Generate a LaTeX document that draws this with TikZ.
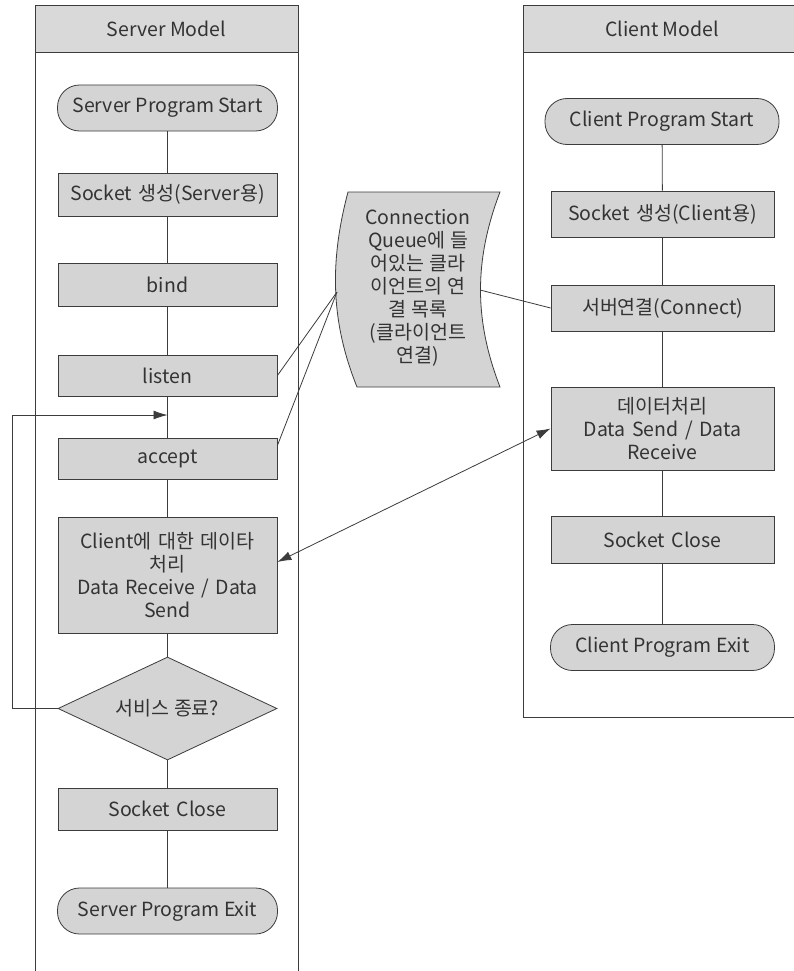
\documentclass[tikz,border=0pt]{standalone}
\usepackage{fontspec}
\setmainfont{Noto Sans CJK KR}
\usetikzlibrary{arrows.meta,shapes.geometric,calc}
\definecolor{boxfill}{HTML}{D4D4D4}
\definecolor{headfill}{HTML}{D9D9D9}
\definecolor{inkline}{HTML}{3C3C3C}
\definecolor{inktext}{HTML}{333333}
\begin{document}
\begin{tikzpicture}[x=1pt,y=-1pt,
  every node/.style={font=\fontsize{19.5}{23}\selectfont, text=inktext},
  line/.style={draw=inkline, line width=0.8pt},
  procbox/.style={line, fill=boxfill, rectangle, inner sep=0pt, align=center},
  srvbox/.style={procbox, minimum width=219pt, text width=215pt},
  clibox/.style={procbox, minimum width=223pt, text width=219pt},
  terminal/.style={line, fill=boxfill, rectangle, rounded corners=22pt, inner sep=0pt, minimum height=46pt},
  decision/.style={line, fill=boxfill, diamond, inner sep=0pt, minimum width=219pt, minimum height=103pt, aspect=2.1},
  flow/.style={line},
  arr/.style={line, -{Latex[length=14pt,width=9pt]}},
  darr/.style={line, {Latex[length=14pt,width=9pt]}-{Latex[length=14pt,width=9pt]}}
]
\useasboundingbox (0,0) rectangle (793,971);
\fill[white] (0,0) rectangle (793,971);

% ---- swimlanes ----
\draw[line, fill=headfill] (35,5) rectangle (298,52);
\draw[line] (35,52) -- (35,975);
\draw[line] (298,52) -- (298,975);
\node (srvhead) at (166.5,29) {Server Model};

\draw[line, fill=headfill] (523,5) rectangle (800,52);
\draw[line] (523,52) -- (523,717) -- (800,717);
\node (clihead) at (662,29) {Client Model};

% ---- server flow ----
\node[terminal, minimum width=220pt] (sstart) at (167.5,108) {Server Program Start};
\node[srvbox, minimum height=43pt] (ssock) at (167.5,194.5) {Socket 생성(Server용)};
\node[srvbox, minimum height=43pt] (bind) at (167.5,284.5) {bind};
\node[srvbox, minimum height=41pt] (listen) at (167.5,375.5) {listen};
\node[srvbox, minimum height=41pt] (accept) at (167.5,458.5) {accept};
\node[srvbox, minimum height=116pt] (sdata) at (167.5,575) {Client에 대한 데이타\\처리\\Data Receive / Data\\Send};
\node[decision] (svcend) at (167.5,708.5) {서비스 종료?};
\node[srvbox, minimum height=42pt] (sclose) at (167.5,809) {Socket Close};
\node[terminal, minimum width=220pt] (sexit) at (167.5,911) {Server Program Exit};

\draw[flow] (sstart) -- (ssock);
\draw[flow] (ssock) -- (bind);
\draw[flow] (bind) -- (listen);
\draw[flow] (listen) -- (accept);
\draw[flow] (accept) -- (sdata);
\draw[flow] (sdata) -- (svcend);
\draw[flow] (svcend) -- (sclose);
\draw[flow] (sclose) -- (sexit);

% loop back from the decision to just above accept
\coordinate (loopin) at (167.5,415);
\draw[arr] (svcend.west) -- (12,708.5) -- (12,415) -- (loopin);

% ---- client flow ----
\node[terminal, minimum width=234pt] (cstart) at (662,121.5) {Client Program Start};
\node[clibox, minimum height=46pt] (csock) at (662.5,214) {Socket 생성(Client용)};
\node[clibox, minimum height=46pt] (cconn) at (662.5,308) {서버연결(Connect)};
\node[clibox, minimum height=83pt] (cdata) at (662.5,428.5) {데이터처리\\Data Send / Data\\Receive};
\node[clibox, minimum height=47pt] (cclose) at (662.5,539.5) {Socket Close};
\node[terminal, minimum width=224pt] (cexit) at (662.5,647.5) {Client Program Exit};

\draw[flow] (cstart) -- (csock);
\draw[flow] (csock) -- (cconn);
\draw[flow] (cconn) -- (cdata);
\draw[flow] (cdata) -- (cclose);
\draw[flow] (cclose) -- (cexit);

% ---- connection queue (curved band) ----
\draw[line, fill=boxfill]
  (348,192) -- (500,192)
  .. controls (474,260) and (474,320) .. (500,387)
  -- (357,387)
  .. controls (330,320) and (330,260) .. (348,192) -- cycle;
\node[align=center, inner sep=0pt] (queue) at (418,287.5)
  {Connection\\Queue에 들\\어있는 클라\\이언트의 연\\결 목록\\(클라이언트\\연결)};
\coordinate (qleft) at (337,292);
\coordinate (qright) at (480,290);

\draw[flow] (listen.east) -- (qleft);
\draw[flow] ($(accept.east)+(0,-13)$) -- (qleft);
\draw[flow] (qright) -- (cconn.west);

% data exchange between server and client
\draw[darr] ($(sdata.east)+(0,-13)$) -- (cdata.west);
\end{tikzpicture}
\end{document}
